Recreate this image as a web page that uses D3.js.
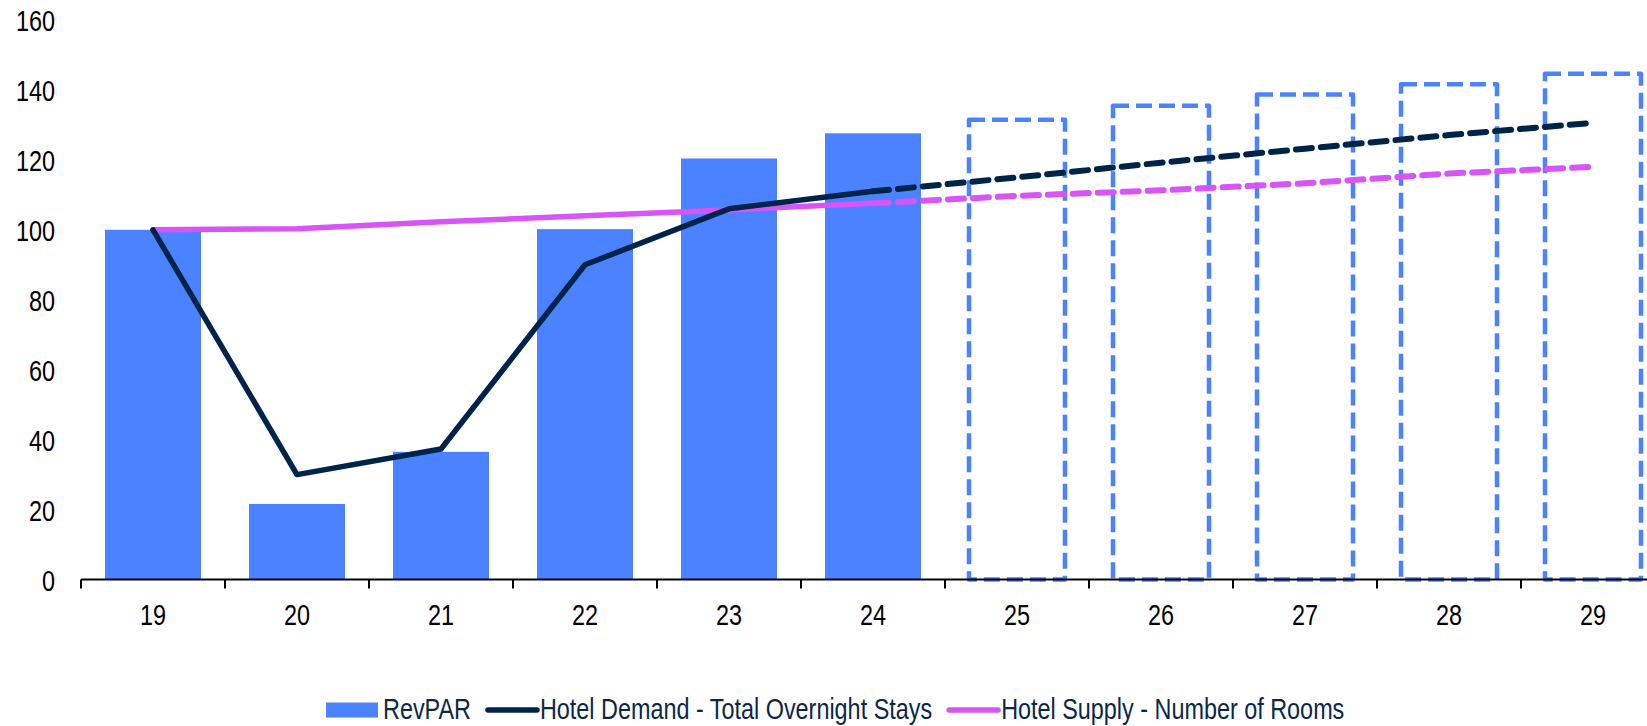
<!DOCTYPE html>
<html>
<head>
<meta charset="utf-8">
<script src="https://cdn.jsdelivr.net/npm/d3@7"></script>
<style>
  html, body { margin: 0; padding: 0; background: #fff; overflow: hidden; }
  svg { display: block; font-family: "Liberation Sans", Arial, sans-serif; }
</style>
</head>
<body>
<div id="chart"></div>
<script>
var years = ["19", "20", "21", "22", "23", "24", "25", "26", "27", "28", "29"]
// RevPAR index, 2019 = 100; from 25 on it is a forecast
var revpar = [100, 21.6, 36.5, 100.2, 120.4, 127.6, 131.5, 135.5, 138.7, 141.6, 144.6]
var demand = [100, 30, 37.3, 90, 106, 111, 115, 119.2, 123.2, 127.1, 130.6]
var supply = [100, 100.3, 102.3, 104, 105.7, 107.6, 109.7, 111.3, 113.3, 116.1, 118]
var lastActual = "24"
var yTicks = [0, 20, 40, 60, 80, 100, 120, 140, 160]
var legendNames = ["RevPAR", "Hotel Demand - Total Overnight Stays", "Hotel Supply - Number of Rooms"]

var colBar = "#4a82ff",
    colDemand = "#00234a",
    colSupply = "#d755f7";

// narrow look (Arial Narrow is not installed)
var sq = 0.78;
var squeeze = "scale(" + sq + ",1)";
var fontSize = "30px";

var width = 1647,
    height = 726,
    left = 81,
    step = 144,
    plotTop = 20,
    plotBottom = 579.5;

var svg = d3.select("#chart").append("svg")
    .attr("width", width)
    .attr("height", height);

var x = d3.scaleBand()
    .domain(years)
    .range([left, left + step * years.length])
    .paddingInner(1 / 3)
    .paddingOuter(1 / 6);

var y = d3.scaleLinear()
    .domain([0, 160])
    .range([plotBottom, plotTop]);

var cut = years.indexOf(lastActual);

// bars
var rows = years.map(function (d, i) {
    return { year: d, v: revpar[i], fc: i > cut };
});

svg.append("g").selectAll("rect")
    .data(rows.filter(function (d) { return !d.fc; }))
    .enter().append("rect")
    .attr("x", function (d) { return x(d.year); })
    .attr("y", function (d) { return y(d.v); })
    .attr("width", x.bandwidth())
    .attr("height", function (d) { return y(0) - y(d.v); })
    .attr("fill", colBar);

svg.append("g").selectAll("rect")
    .data(rows.filter(function (d) { return d.fc; }))
    .enter().append("rect")
    .attr("x", function (d) { return x(d.year); })
    .attr("y", function (d) { return y(d.v); })
    .attr("width", x.bandwidth())
    .attr("height", function (d) { return y(0) - y(d.v); })
    .attr("fill", "none")
    .attr("stroke", colBar)
    .attr("stroke-width", 4.5)
    .attr("stroke-linejoin", "round")
    .attr("stroke-dasharray", "16,7");

// x axis
var xAxis = d3.axisBottom(x).tickSize(0).tickPadding(0);
var gx = svg.append("g")
    .attr("transform", "translate(0," + plotBottom + ")")
    .call(xAxis);
gx.select(".domain").remove();
gx.append("line")
    .attr("x1", left).attr("x2", left + step * years.length)
    .attr("stroke", "#000").attr("stroke-width", 2);
gx.selectAll(".sep")
    .data(d3.range(years.length + 1))
    .enter().append("line")
    .attr("class", "sep")
    .attr("x1", function (i) { return left + i * step; })
    .attr("x2", function (i) { return left + i * step; })
    .attr("y1", 0).attr("y2", 9)
    .attr("stroke", "#000").attr("stroke-width", 2);
gx.selectAll(".tick text")
    .attr("y", 46)
    .attr("dy", null)
    .attr("fill", "#000")
    .attr("transform", squeeze)
    .style("font-size", fontSize);

// y axis, labels only
var gy = svg.append("g")
    .attr("transform", "translate(55,0)")
    .call(d3.axisLeft(y).tickValues(yTicks).tickSize(0).tickPadding(0));
gy.select(".domain").remove();
gy.selectAll(".tick text")
    .attr("dy", "0.36em")
    .attr("fill", "#000")
    .attr("transform", squeeze)
    .style("font-size", fontSize);

// lines
var line = d3.line()
    .x(function (d) { return x(d.year) + x.bandwidth() / 2; })
    .y(function (d) { return y(d.v); });

function drawSeries(vals, color) {
    var pts = years.map(function (d, i) { return { year: d, v: vals[i] }; });
    svg.append("path")
        .datum(pts.slice(0, cut + 1))
        .attr("d", line)
        .attr("fill", "none")
        .attr("stroke", color)
        .attr("stroke-width", 5.5)
        .attr("stroke-linejoin", "round")
        .attr("stroke-linecap", "round");
    svg.append("path")
        .datum(pts.slice(cut))
        .attr("d", line)
        .attr("fill", "none")
        .attr("stroke", color)
        .attr("stroke-width", 6)
        .attr("stroke-linecap", "round")
        .attr("stroke-dasharray", "16,9");
}
drawSeries(supply, colSupply);
drawSeries(demand, colDemand);

// legend
var lg = svg.append("g").attr("transform", "translate(0,710)");
var lx = 326;
legendNames.forEach(function (name, i) {
    if (i == 0) {
        lg.append("rect").attr("x", lx).attr("y", -7.5).attr("width", 52).attr("height", 15).attr("fill", colBar);
        lx += 57;
    } else {
        lg.append("line").attr("x1", lx + 3).attr("x2", lx + 52)
            .attr("stroke", i == 1 ? colDemand : colSupply)
            .attr("stroke-width", 5.5).attr("stroke-linecap", "round");
        lx += 55;
    }
    var t = lg.append("text")
        .attr("transform", "translate(" + lx + ",9) " + squeeze)
        .attr("fill", "#0b2747")
        .style("font-size", fontSize)
        .text(name);
    lx += t.node().getComputedTextLength() * sq + 14;
});
</script>
</body>
</html>
